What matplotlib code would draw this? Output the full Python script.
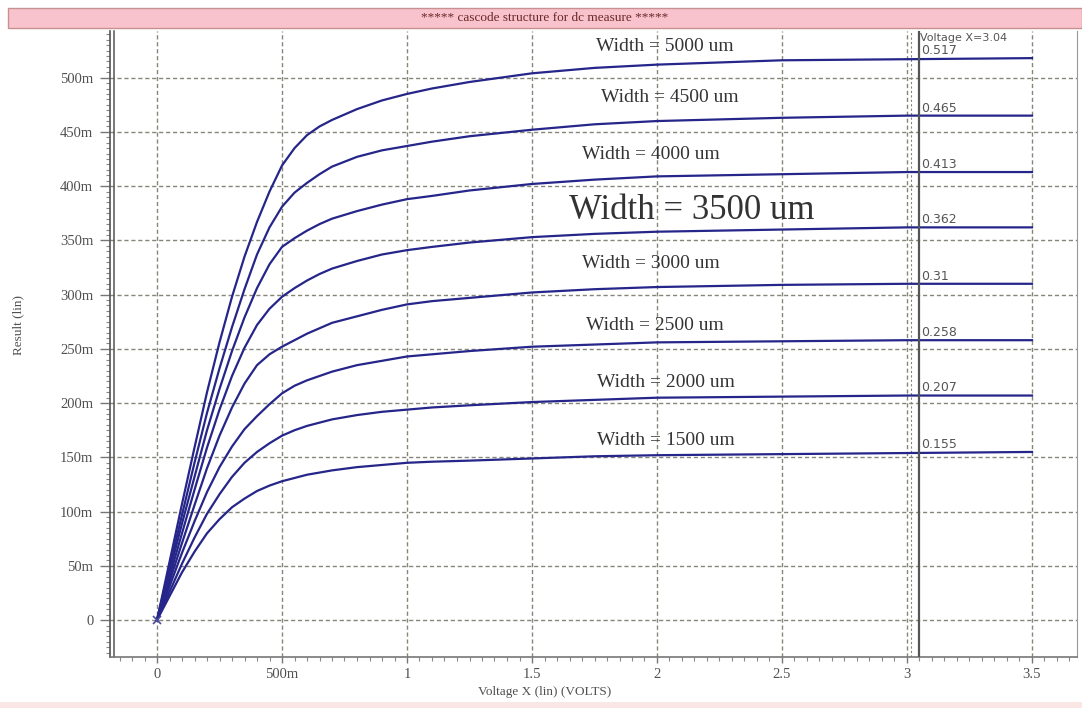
import numpy as np
import matplotlib.pyplot as plt
from matplotlib.patches import Rectangle
from matplotlib.ticker import MultipleLocator, FixedLocator

# 扫描电压 (V)
volts = [0, 0.1, 0.15, 0.2, 0.25, 0.3, 0.35, 0.4, 0.45, 0.5, 0.55, 0.6, 0.65, 0.7, 0.8, 0.9,
         1.0, 1.1, 1.25, 1.5, 1.75, 2.0, 2.5, 3.0, 3.5]

# 各宽度下的电流 (A)
w5000 = [0, 0.107, 0.159, 0.210, 0.256, 0.298, 0.335, 0.367, 0.395, 0.419, 0.435, 0.447, 0.455,
         0.461, 0.471, 0.479, 0.485, 0.490, 0.496, 0.504, 0.509, 0.512, 0.516, 0.517, 0.518]
w4500 = [0, 0.097, 0.145, 0.191, 0.232, 0.270, 0.305, 0.337, 0.362, 0.381, 0.394, 0.403, 0.411,
         0.418, 0.427, 0.433, 0.437, 0.441, 0.446, 0.452, 0.457, 0.460, 0.463, 0.465, 0.465]
w4000 = [0, 0.089, 0.132, 0.175, 0.213, 0.248, 0.279, 0.306, 0.328, 0.344, 0.352, 0.359, 0.365,
         0.370, 0.377, 0.383, 0.388, 0.391, 0.396, 0.402, 0.406, 0.409, 0.411, 0.413, 0.413]
w3500 = [0, 0.080, 0.120, 0.159, 0.194, 0.225, 0.251, 0.272, 0.287, 0.298, 0.306, 0.313, 0.319,
         0.324, 0.331, 0.337, 0.341, 0.344, 0.348, 0.353, 0.356, 0.358, 0.360, 0.362, 0.362]
w3000 = [0, 0.071, 0.106, 0.140, 0.170, 0.196, 0.218, 0.235, 0.245, 0.252, 0.258, 0.264, 0.269,
         0.274, 0.280, 0.286, 0.291, 0.294, 0.297, 0.302, 0.305, 0.307, 0.309, 0.310, 0.310]
w2500 = [0, 0.062, 0.091, 0.118, 0.141, 0.160, 0.176, 0.188, 0.199, 0.209, 0.216, 0.221, 0.225,
         0.229, 0.235, 0.239, 0.243, 0.245, 0.248, 0.252, 0.254, 0.256, 0.257, 0.258, 0.258]
w2000 = [0, 0.052, 0.076, 0.098, 0.116, 0.132, 0.145, 0.155, 0.163, 0.170, 0.175, 0.179, 0.182,
         0.185, 0.189, 0.192, 0.194, 0.196, 0.198, 0.201, 0.203, 0.205, 0.206, 0.207, 0.207]
w1500 = [0, 0.044, 0.063, 0.080, 0.093, 0.104, 0.112, 0.119, 0.124, 0.128, 0.131, 0.134, 0.136,
         0.138, 0.141, 0.143, 0.145, 0.146, 0.147, 0.149, 0.151, 0.152, 0.153, 0.154, 0.155]

curves = [w5000, w4500, w4000, w3500, w3000, w2500, w2000, w1500]
labels = ['Width = 5000 um', 'Width = 4500 um', 'Width = 4000 um', 'Width = 3500 um',
          'Width = 3000 um', 'Width = 2500 um', 'Width = 2000 um', 'Width = 1500 um']
label_x = [2.03, 2.05, 1.976, 2.14, 1.976, 1.99, 2.036, 2.036]
label_y = [0.529, 0.482, 0.429, 0.378, 0.329, 0.272, 0.219, 0.166]
cursor_vals = ['0.517', '0.465', '0.413', '0.362', '0.31', '0.258', '0.207', '0.155']
cursor_x = 3.048

xticks = [0, 0.5, 1, 1.5, 2, 2.5, 3, 3.5]
xtick_labels = ['0', '500m', '1', '1.5', '2', '2.5', '3', '3.5']
yticks = [0, 0.05, 0.1, 0.15, 0.2, 0.25, 0.3, 0.35, 0.4, 0.45, 0.5]
ytick_labels = ['0', '50m', '100m', '150m', '200m', '250m', '300m', '350m', '400m', '450m', '500m']

W, H = 1082, 708
fig = plt.figure(figsize=(W / 100, H / 100), dpi=100)
fig.patch.set_facecolor('white')

# 顶部粉色标题栏
fig.patches.append(Rectangle((8 / W, 1 - 28 / H), 1 - 8 / W, 20 / H, transform=fig.transFigure,
                             facecolor='#f8c3cc', edgecolor='#c89090', lw=1, zorder=0))
fig.patches.append(Rectangle((0, 0), 1, 6 / H, transform=fig.transFigure,
                             facecolor='#fbe6e6', edgecolor='none', zorder=0))
fig.text(545 / W, 1 - 18 / H, '***** cascode structure for dc measure *****',
         ha='center', va='center', fontsize=9.5, family='Liberation Serif', color='#6a2828')

ax = fig.add_axes([110 / W, 1 - 657 / H, (1077 - 110) / W, (657 - 31) / H])
ax.set_xlim(-0.188, 3.68)
ax.set_ylim(-0.034, 0.543)

gridc = '#85857a'
ax.xaxis.set_major_locator(FixedLocator(xticks))
ax.yaxis.set_major_locator(FixedLocator(yticks))
ax.set_xticklabels(xtick_labels)
ax.set_yticklabels(ytick_labels)
ax.xaxis.set_minor_locator(MultipleLocator(0.05))
ax.yaxis.set_minor_locator(MultipleLocator(0.005))
ax.grid(True, which='major', color=gridc, linestyle=(0, (3, 2)), lw=1)
ax.axvline(3.015, color=gridc, linestyle=(0, (2, 2)), lw=0.8)
ax.tick_params(which='major', direction='out', length=7, width=1, color='#777777',
               labelsize=10.5, labelcolor='#505050', pad=5)
ax.tick_params(axis='x', which='major', length=4, pad=4)
ax.tick_params(which='minor', direction='out', length=3, width=0.8, color='#888888')
for t in ax.get_xticklabels() + ax.get_yticklabels():
    t.set_family('Liberation Serif')

ax.spines['top'].set_visible(False)
ax.spines['right'].set_color('#999999')
ax.spines['left'].set_color('#555555')
ax.spines['left'].set_linewidth(1.2)
ax.spines['bottom'].set_color('#777777')
ax.spines['bottom'].set_linewidth(1.2)
ax.plot([0.004, 0.004], [0, 1], transform=ax.transAxes, color='#555555', lw=1.1, clip_on=False)

# 曲线
for vals in curves:
    ax.plot(volts, vals, color='#25258a', lw=1.6, zorder=3)
ax.plot([0], [0], marker='x', color='#4a4aa0', ms=6, mew=1.2, zorder=4)

# 游标
ax.axvline(cursor_x, color='#555555', lw=1.6, zorder=4)
ax.text(cursor_x + 0.005, 0.537, 'Voltage X=3.04', fontsize=8, color='#555555',
        ha='left', va='center', family='DejaVu Sans', zorder=5)
for vals, s in zip(curves, cursor_vals):
    ax.text(cursor_x + 0.01, vals[-1] + 0.001, s, fontsize=9, color='#555555',
            ha='left', va='bottom', family='DejaVu Sans', zorder=5)

# 宽度标注
for s, lx, ly in zip(labels, label_x, label_y):
    fs = 25 if '3500' in s else 14
    ax.text(lx, ly, s, fontsize=fs, family='Liberation Serif', color='#333333',
            ha='center', va='center', zorder=5)

fig.text(545 / W, 1 - 692 / H, 'Voltage X (lin) (VOLTS)', ha='center', va='center',
         fontsize=9.5, family='Liberation Serif', color='#505050')
fig.text(18 / W, 1 - 325 / H, 'Result (lin)', ha='center', va='center', rotation=90,
         fontsize=9.5, family='Liberation Serif', color='#505050')

plt.savefig('out.png', dpi=100)
plt.close()
